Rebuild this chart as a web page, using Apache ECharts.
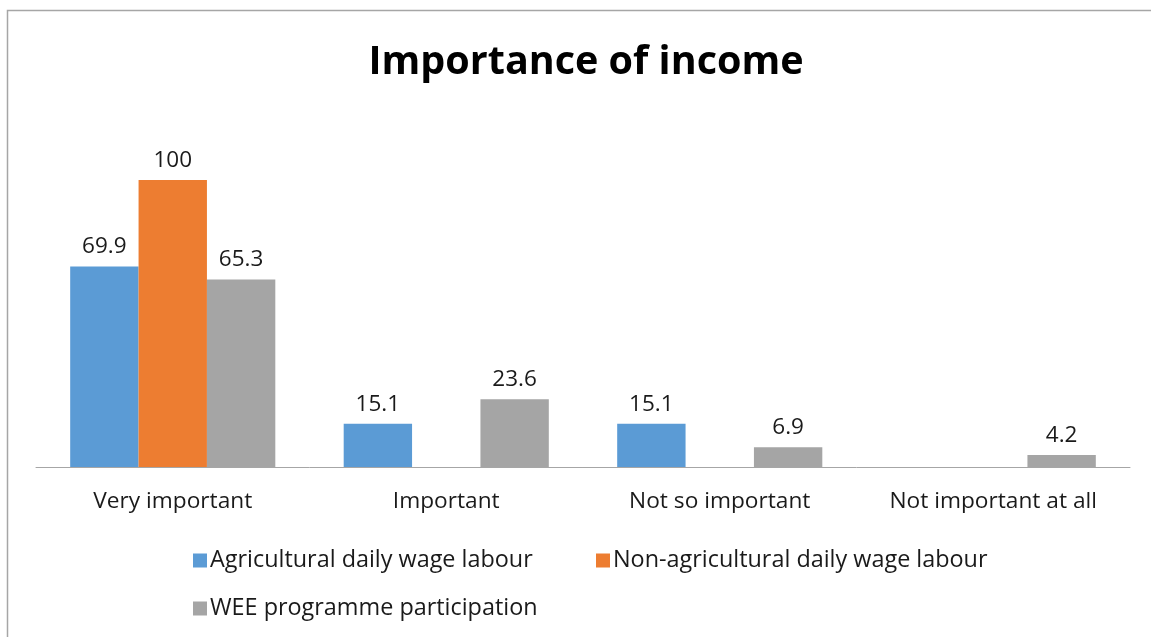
<!DOCTYPE html>
<html>
<head>
<meta charset="utf-8">
<script src="https://cdn.jsdelivr.net/npm/echarts@6/dist/echarts.min.js"></script>
<style>
  html, body { margin: 0; padding: 0; background: #fff; }
  #main { width: 1151px; height: 637px; }
</style>
</head>
<body>
<div id="main"></div>
<script>
// data
const categories = ["Very important", "Important", "Not so important", "Not important at all"];
const agricultural = [69.9, 15.1, 15.1, null];
const nonAgricultural = [100, null, null, null];
const weeParticipation = [65.3, 23.6, 6.9, 4.2];

const FONT = "Open Sans";
const names = ["Agricultural daily wage labour", "Non-agricultural daily wage labour", "WEE programme participation"];
const colors = ["#5b9bd5", "#ed7d31", "#a5a5a5"];

const myChart = echarts.init(document.getElementById("main"));

const labelStyle = {
  show: true,
  position: "top",
  distance: 8,
  color: "#1a1a1a",
  fontFamily: FONT,
  fontSize: 22.5,
};

const legendBase = {
  itemWidth: 14,
  itemHeight: 14,
  itemGap: 6,
  icon: "rect",
  textStyle: { color: "#1a1a1a", fontFamily: FONT, fontSize: 23.4, padding: [0, 0, 0, -2] },
  selectedMode: false,
};

const option = {
  animation: false,
  graphic: [
    {
      type: "polyline",
      shape: { points: [[7.5, 700], [7.5, 10.5], [1200, 10.5]] },
      style: { fill: "none", stroke: "#a6a6a6", lineWidth: 1.5 },
    },
  ],
  title: {
    text: "Importance of income",
    left: 581,
    textAlign: "center",
    top: 38,
    textStyle: { fontFamily: FONT, fontSize: 39.5, fontWeight: "bold", color: "#000" },
  },
  legend: [
    Object.assign({ left: 188, top: 544, data: [names[0]] }, legendBase),
    Object.assign({ left: 591, top: 544, data: [names[1]] }, legendBase),
    Object.assign({ left: 188, top: 592, data: [names[2]] }, legendBase),
  ],
  grid: { left: 36, right: 21, top: 180, bottom: 170 },
  xAxis: {
    type: "category",
    data: categories,
    axisLine: { lineStyle: { color: "#a6a6a6", width: 1 } },
    axisTick: { show: false },
    axisLabel: { color: "#1a1a1a", fontFamily: FONT, fontSize: 22.7, margin: 23 },
  },
  yAxis: {
    type: "value",
    min: 0,
    max: 100,
    show: false,
    splitLine: { show: false },
  },
  series: [
    { name: names[0], type: "bar", data: agricultural, barGap: "0%", barCategoryGap: "25%", itemStyle: { color: colors[0] }, label: labelStyle },
    { name: names[1], type: "bar", data: nonAgricultural, barGap: "0%", barCategoryGap: "25%", itemStyle: { color: colors[1] }, label: labelStyle },
    { name: names[2], type: "bar", data: weeParticipation, barGap: "0%", barCategoryGap: "25%", itemStyle: { color: colors[2] }, label: labelStyle },
  ],
};

myChart.setOption(option);
</script>
</body>
</html>
